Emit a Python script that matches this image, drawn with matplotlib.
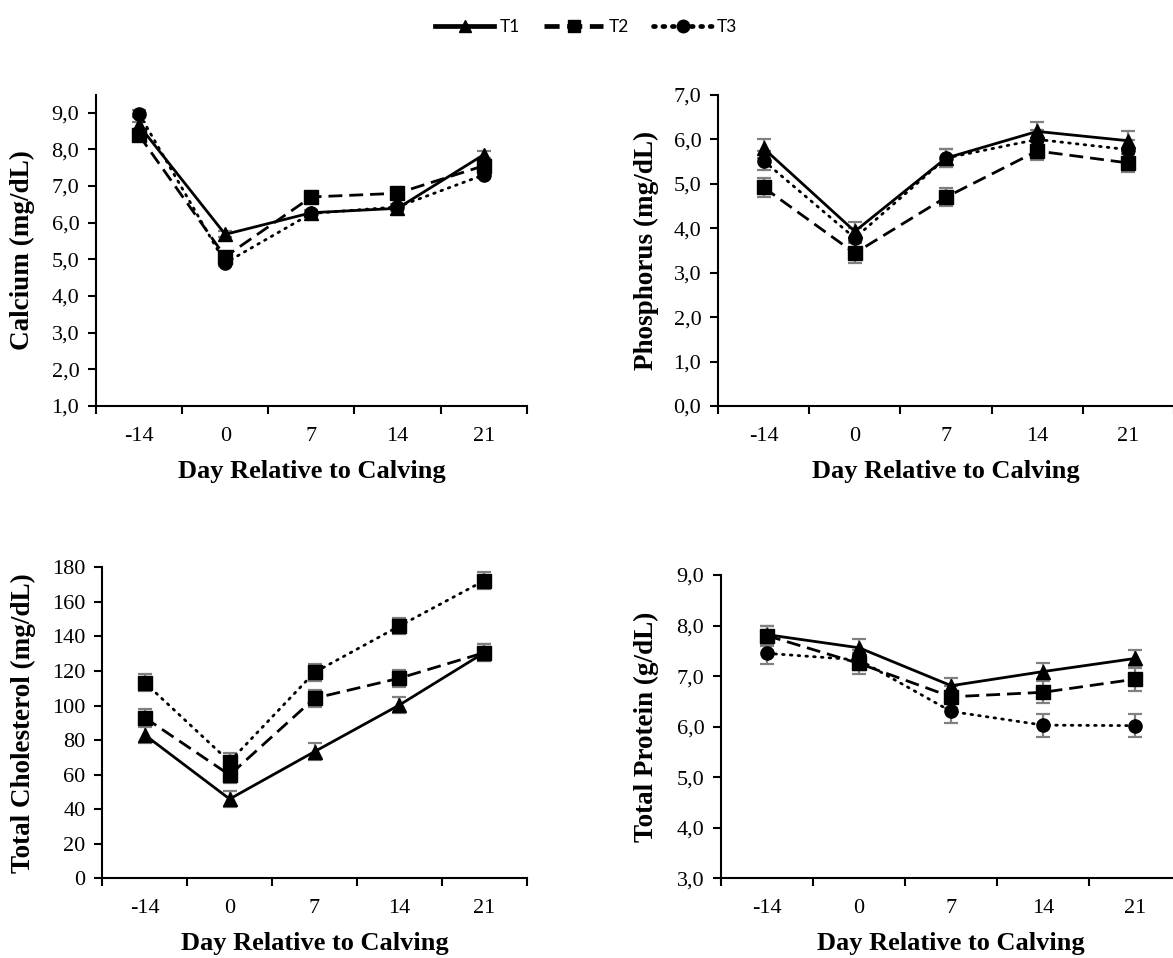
import matplotlib
matplotlib.use("Agg")
import matplotlib.pyplot as plt
from matplotlib.lines import Line2D
from matplotlib.ticker import FixedLocator, FuncFormatter

days = ["-14", "0", "7", "14", "21"]
series_names = ["T1", "T2", "T3"]

ca_t1 = [8.65, 5.68, 6.27, 6.39, 7.85]
ca_t2 = [8.38, 5.07, 6.70, 6.80, 7.55]
ca_t3 = [8.97, 4.90, 6.25, 6.43, 7.30]
ca_err = [0.09, 0.08, 0.07, 0.07, 0.09]

p_t1 = [5.80, 3.93, 5.58, 6.18, 5.97]
p_t2 = [4.92, 3.44, 4.70, 5.74, 5.47]
p_t3 = [5.52, 3.78, 5.58, 6.00, 5.77]
p_err = [0.21, 0.22, 0.20, 0.21, 0.21]

chol_t1 = [83.0, 45.9, 73.3, 100.3, 130.6]
chol_t2 = [93.0, 59.8, 104.2, 115.8, 130.6]
chol_t3 = [113.3, 67.5, 119.2, 146.0, 172.3]
chol_err = [4.8, 4.8, 4.8, 4.8, 4.8]

prot_t1 = [7.82, 7.56, 6.81, 7.09, 7.35]
prot_t2 = [7.80, 7.25, 6.59, 6.68, 6.94]
prot_t3 = [7.45, 7.32, 6.30, 6.03, 6.02]
prot_err_t1 = [0.18, 0.17, 0.15, 0.16, 0.16]
prot_err_t2 = [0.20, 0.20, 0.22, 0.22, 0.23]
prot_err_t3 = [0.22, 0.20, 0.22, 0.23, 0.23]

W, H = 1173, 958
fig = plt.figure(figsize=(W / 100, H / 100), dpi=100)

serif = ["Liberation Serif", "DejaVu Serif"]

def px_axes(left, right, top, bottom):
    return fig.add_axes([left / W, 1 - bottom / H, (right - left) / W, (bottom - top) / H])

styles = {
    "T1": dict(linestyle="-", marker="^", leg_ls="-"),
    "T2": dict(linestyle=(0, (5, 2.5)), marker="s", leg_ls=(0, (3.2, 1.6))),
    "T3": dict(linestyle=(0, (0.6, 2.2)), marker="o", leg_ls=(0, (0.4, 1.6))),
}

def panel(rect, vals, errs, markers, ylim, yticks, fmt, ylabel, ylabel_x):
    left, right, top, bottom = rect
    ax = px_axes(left, right, top, bottom)
    x = list(range(len(days)))
    for name, v, e, m in zip(series_names, vals, errs, markers):
        st = styles[name]
        ax.errorbar(x, v, yerr=e, fmt="none", ecolor="#808080", elinewidth=1.6,
                    capsize=5, capthick=1.6, zorder=2)
        ax.plot(x, v, color="black", lw=2.0, linestyle=st["linestyle"],
                dash_capstyle="round" if name == "T3" else "butt",
                marker=m, markersize=9.5, markerfacecolor="black",
                markeredgecolor="black", zorder=3)
    ax.set_xlim(-0.5, len(days) - 0.5)
    ax.set_ylim(*ylim)
    ax.xaxis.set_major_locator(FixedLocator([i - 0.5 for i in range(len(days) + 1)]))
    ax.xaxis.set_major_formatter(FuncFormatter(lambda v, p: ""))
    ax.xaxis.set_minor_locator(FixedLocator(x))
    ax.xaxis.set_minor_formatter(FuncFormatter(lambda v, p: days[int(round(v))]))
    ax.tick_params(axis="x", which="major", direction="out", length=6, width=1.5)
    ax.tick_params(axis="x", which="minor", length=0, pad=15, labelsize=16)
    ax.yaxis.set_major_locator(FixedLocator(yticks))
    ax.yaxis.set_major_formatter(FuncFormatter(fmt))
    ax.tick_params(axis="y", direction="out", length=6, width=1.5, labelsize=16, pad=6)
    for lab in ax.get_xticklabels(which="both") + ax.get_yticklabels():
        lab.set_fontfamily(serif)
    for s in ["top", "right"]:
        ax.spines[s].set_visible(False)
    for s in ["left", "bottom"]:
        ax.spines[s].set_linewidth(1.5)
        ax.spines[s].set_color("black")
    ax.set_xlabel("Day Relative to Calving", fontsize=19, fontweight="bold",
                  family=serif, labelpad=10)
    ax.set_ylabel(ylabel, fontsize=19.5, fontweight="bold", family=serif)
    ax.yaxis.set_label_coords((ylabel_x - left) / (right - left), 0.5)
    return ax

dec = lambda v, p: f"{v:.1f}".replace(".", ",")
intf = lambda v, p: f"{v:.0f}"

panel((96, 526.7, 95, 406), [ca_t1, ca_t2, ca_t3], [ca_err, ca_err, ca_err],
      ["^", "s", "o"], (1.0, 9.48), [1, 2, 3, 4, 5, 6, 7, 8, 9], dec,
      "Calcium (mg/dL)", 35)
panel((718, 1174, 95, 406), [p_t1, p_t2, p_t3], [p_err, p_err, p_err],
      ["^", "s", "o"], (0.0, 7.0), [0, 1, 2, 3, 4, 5, 6, 7], dec,
      "Phosphorus (mg/dL)", 659)
panel((102.3, 526.7, 567.3, 878.3), [chol_t1, chol_t2, chol_t3],
      [chol_err, chol_err, chol_err], ["^", "s", "s"], (0, 180),
      list(range(0, 181, 20)), intf, "Total Cholesterol (mg/dL)", 36)
panel((721, 1181.4, 575, 878.3), [prot_t1, prot_t2, prot_t3],
      [prot_err_t1, prot_err_t2, prot_err_t3], ["^", "s", "o"], (3.0, 9.0),
      [3, 4, 5, 6, 7, 8, 9], dec, "Total Protein (g/dL)", 659)

handles = []
for name in series_names:
    st = styles[name]
    handles.append(Line2D([], [], color="black", lw=3.4, linestyle=st["leg_ls"],
                          dash_capstyle="round" if name == "T3" else "butt",
                          marker=st["marker"], markersize=9))
fig.legend(handles, series_names, loc="center", bbox_to_anchor=(0.5, 1 - 27 / H),
           ncol=3, frameon=False, handlelength=3.4, handletextpad=0.3,
           columnspacing=1.4, prop={"family": ["Lato", "DejaVu Sans"], "size": 12.5})

fig.savefig("out.png", dpi=100)
